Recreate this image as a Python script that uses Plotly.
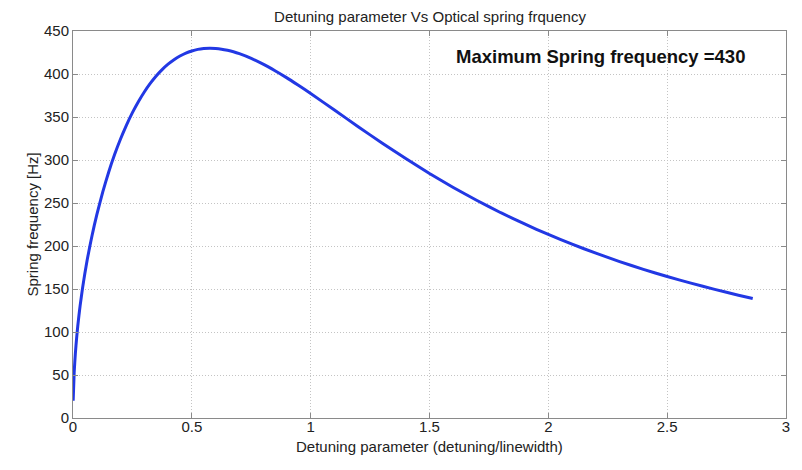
import plotly.graph_objects as go

# Detuning parameter (detuning/linewidth)
detuning = [0.0007, 0.005, 0.01, 0.015, 0.02, 0.025, 0.03, 0.04, 0.05, 0.06, 0.07, 0.08,
            0.09, 0.1, 0.125, 0.15, 0.175, 0.2, 0.225, 0.25, 0.275, 0.3, 0.325, 0.35,
            0.375, 0.4, 0.425, 0.45, 0.475, 0.5, 0.525, 0.55, 0.575, 0.6, 0.625, 0.65,
            0.675, 0.7, 0.75, 0.8, 0.85, 0.9, 0.95, 1.0, 1.1, 1.2, 1.3, 1.4, 1.5, 1.6,
            1.7, 1.8, 1.9, 2.0, 2.1, 2.2, 2.3, 2.4, 2.5, 2.6, 2.7, 2.8, 2.86]
# Spring frequency [Hz]
spring_freq = [20.0, 53.4, 75.4, 92.4, 106.7, 119.2, 130.6, 150.7, 168.3, 184.2, 198.6, 212.0,
               224.5, 236.2, 262.7, 285.8, 306.3, 324.4, 340.6, 355.1, 367.8, 379.1, 389.0, 397.7,
               405.1, 411.4, 416.6, 420.9, 424.3, 426.8, 428.6, 429.6, 430.0, 429.7, 428.9, 427.6,
               425.9, 423.7, 418.2, 411.5, 403.8, 395.5, 386.5, 377.3, 358.1, 338.7, 319.8, 301.6,
               284.3, 268.1, 252.9, 238.7, 225.6, 213.4, 202.1, 191.6, 181.9, 172.9, 164.5, 156.8,
               149.6, 142.8, 139.0]

x_ticks = [0, 0.5, 1, 1.5, 2, 2.5, 3]
x_tick_text = ["0", "0.5", "1", "1.5", "2", "2.5", "3"]
y_ticks = [0, 50, 100, 150, 200, 250, 300, 350, 400, 450]

FONT = "Liberation Sans, Arial, Helvetica, sans-serif"
TXT = "#222222"

fig = go.Figure()
fig.add_trace(go.Scatter(x=detuning, y=spring_freq, mode="lines",
                         line=dict(color="#2238e4", width=3, shape="spline", smoothing=0.5),
                         showlegend=False))

axis_common = dict(
    showline=True, linecolor="#8a8a8a", linewidth=1, mirror="ticks",
    ticks="inside", ticklen=5, tickcolor="#8a8a8a",
    showgrid=True, gridcolor="#c4c4c4", griddash="1px,2px", gridwidth=1,
    zeroline=False,
    tickfont=dict(family=FONT, size=15, color=TXT),
)

fig.update_xaxes(range=[0, 3], tickvals=x_ticks, ticktext=x_tick_text,
                 ticklabelstandoff=-5, **axis_common)
fig.update_yaxes(range=[0, 450], tickvals=y_ticks, **axis_common)

# Axis titles
fig.add_annotation(x=0.5, y=0, xref="paper", yref="paper", yshift=-28,
                   text="Detuning parameter (detuning/linewidth)", showarrow=False,
                   xanchor="center", yanchor="middle",
                   font=dict(family=FONT, size=15, color=TXT))
fig.add_annotation(x=0, y=0.5, xref="paper", yref="paper", xshift=-41,
                   text="Spring frequency [Hz]", showarrow=False, textangle=-90,
                   xanchor="center", yanchor="middle",
                   font=dict(family=FONT, size=15, color=TXT))

fig.add_annotation(x=2.22, y=420, xref="x", yref="y",
                   text="<b>Maximum Spring frequency =430</b>", showarrow=False,
                   font=dict(family=FONT, size=18.5, color="#111111"))

# The page has an 8px body margin, so the figure is sized to fit the window
W, H = 794, 462
fig.update_layout(
    width=W, height=H,
    margin=dict(l=65, r=14, t=23, b=52),
    paper_bgcolor="white", plot_bgcolor="white",
    title=dict(text="Detuning parameter Vs Optical spring frquency",
               x=422 / W, xanchor="center", y=1 - 3 / H, yanchor="top", pad=dict(t=0),
               font=dict(family=FONT, size=15, color=TXT)),
)

fig.write_html("out.html")
